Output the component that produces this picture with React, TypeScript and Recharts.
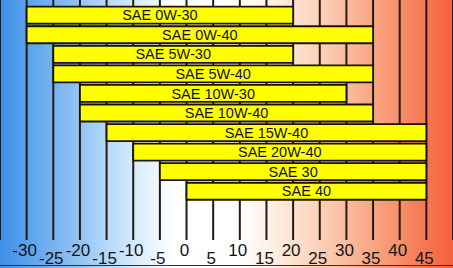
import React from "react";
import { BarChart, Bar, XAxis, YAxis, CartesianGrid, LabelList } from "recharts";

const grades = [
  "SAE 0W-30",
  "SAE 0W-40",
  "SAE 5W-30",
  "SAE 5W-40",
  "SAE 10W-30",
  "SAE 10W-40",
  "SAE 15W-40",
  "SAE 20W-40",
  "SAE 30",
  "SAE 40",
];
const minTemp = [-30, -30, -25, -25, -20, -20, -15, -10, -5, 0];
const maxTemp = [20, 35, 20, 35, 30, 35, 45, 45, 45, 45];
const tempTicks = [-30, -25, -20, -15, -10, -5, 0, 5, 10, 15, 20, 25, 30, 35, 40, 45];

const data = grades.map((grade, i) => ({ grade, range: [minTemp[i], maxTemp[i]] }));

const FONT = "'Liberation Sans', Arial, sans-serif";

const bg =
  "linear-gradient(to right, #3f8fe8 0%, #5aa2ee 6%, #76b2f0 11.7%, #94c4f4 17.7%, #b4d8f8 23.4%, #d4eafc 29.4%, #f0f8fe 35.3%, #ffffff 38.6%, #ffffff 53%, #fff2e8 58.7%, #fde2d2 64.7%, #fcd0b8 70.6%, #fabca0 76.4%, #f8a684 82.3%, #f78e6a 88.3%, #f67650 94%, #f4623c 100%)";

function StaggerTick(props: any) {
  const { x, y, payload, index } = props;
  const low = index % 2 === 1;
  return (
    <text
      x={x - 2}
      y={y + (low ? 24 : 16)}
      textAnchor="middle"
      fontSize={17}
      fontFamily={FONT}
      fill="#141414"
    >
      {payload.value}
    </text>
  );
}

export default function App() {
  return (
    <div style={{ position: "fixed", left: 0, top: 0, width: 453, height: 268, background: bg, overflow: "hidden" }}>
      <div style={{ position: "absolute", left: 0, top: 265, width: 453, height: 1, background: "#333" }} />
      <BarChart
        width={453}
        height={268}
        data={data}
        layout="vertical"
        margin={{ top: 0, right: 0, bottom: 0, left: 0 }}
        barSize={17}
        style={{ position: "absolute", left: 0, top: 0 }}
      >
        <CartesianGrid vertical horizontal={false} stroke="#231a14" strokeWidth={2} />
        <XAxis
          type="number"
          domain={[-35, 50]}
          ticks={tempTicks}
          allowDataOverflow
          axisLine={false}
          tickLine={false}
          tickSize={0}
          tickMargin={0}
          height={28}
          interval={0}
          tick={<StaggerTick />}
        />
        <YAxis type="category" dataKey="grade" hide padding={{ top: 5.7, bottom: 38.7 }} />
        <Bar dataKey="range" fill="#ffff00" stroke="#1c1400" strokeWidth={1.8} isAnimationActive={false}>
          <LabelList dataKey="grade" position="center" fill="#111" fontSize={14.5} fontFamily={FONT} />
        </Bar>
      </BarChart>
    </div>
  );
}
